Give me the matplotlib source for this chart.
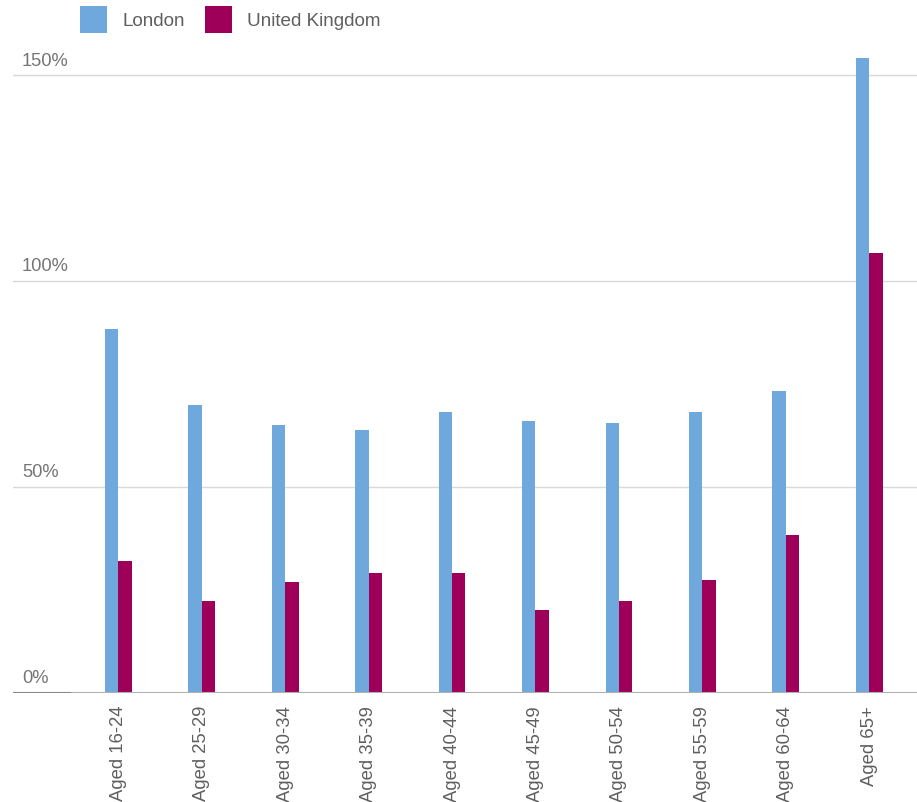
import matplotlib.pyplot as plt
import matplotlib.transforms as mtransforms
import numpy as np

plt.rcParams['font.family'] = ['Liberation Sans', 'DejaVu Sans']

# age groups and shares (%)
groups = ['Aged 16-24', 'Aged 25-29', 'Aged 30-34', 'Aged 35-39', 'Aged 40-44',
          'Aged 45-49', 'Aged 50-54', 'Aged 55-59', 'Aged 60-64', 'Aged 65+']
london = [88.3, 69.7, 65.0, 63.8, 68.2, 65.8, 65.5, 68.0, 73.1, 154.1]
uk = [32.0, 22.1, 26.9, 29.1, 29.1, 20.1, 22.1, 27.2, 38.3, 106.8]
yticks = [0, 50, 100, 150]

blue = '#6fa8dc'
plum = '#9e0059'
text_col = '#5f5f5f'

fig = plt.figure(figsize=(9.17, 8.03), dpi=100)
bottom_px, top_px = 693.5, 51
ax = fig.add_axes([13 / 917, 1 - bottom_px / 803, 904 / 917, (bottom_px - top_px) / 803])

x = np.arange(len(groups))
w = 0.16
ax.bar(x - w / 2, london, width=w, color=blue, label='London', zorder=3)
ax.bar(x + w / 2, uk, width=w, color=plum, label='United Kingdom', zorder=3)

step = 83.43
ax.set_xlim((13 - 118.3) / step, (917 - 118.3) / step)
ax.set_ylim(0, 156)

# gridlines
for v in yticks[1:]:
    ax.axhline(v, color='#d9d9d9', lw=1, zorder=1)
ax.axhline(0, color='#b0b0b0', lw=1.5, zorder=4)
ax.axhline(0, xmin=0, xmax=57 / 904, color='#8a8a8a', lw=1.5, zorder=5)

for s in ax.spines.values():
    s.set_visible(False)

ax.set_yticks([])
trans = mtransforms.blended_transform_factory(ax.transAxes, ax.transData)
for v in yticks:
    ax.text(9 / 904, v + 1.5, f'{v}%', transform=trans, ha='left', va='bottom',
            fontsize=13.2, color='#757575')

ax.set_xticks(x)
ax.set_xticklabels(groups, rotation=90, fontsize=13.3, color=text_col)
ax.tick_params(axis='x', length=0, pad=9)

fig.legend(loc='upper left', bbox_to_anchor=(80 / 917, 1 - 7 / 803), ncol=2,
           frameon=False, fontsize=13.6, labelcolor=text_col, borderpad=0,
           handlelength=1.45, handleheight=1.8, handletextpad=0.8,
           columnspacing=1.05, borderaxespad=0)

fig.savefig('out.png', dpi=100)
